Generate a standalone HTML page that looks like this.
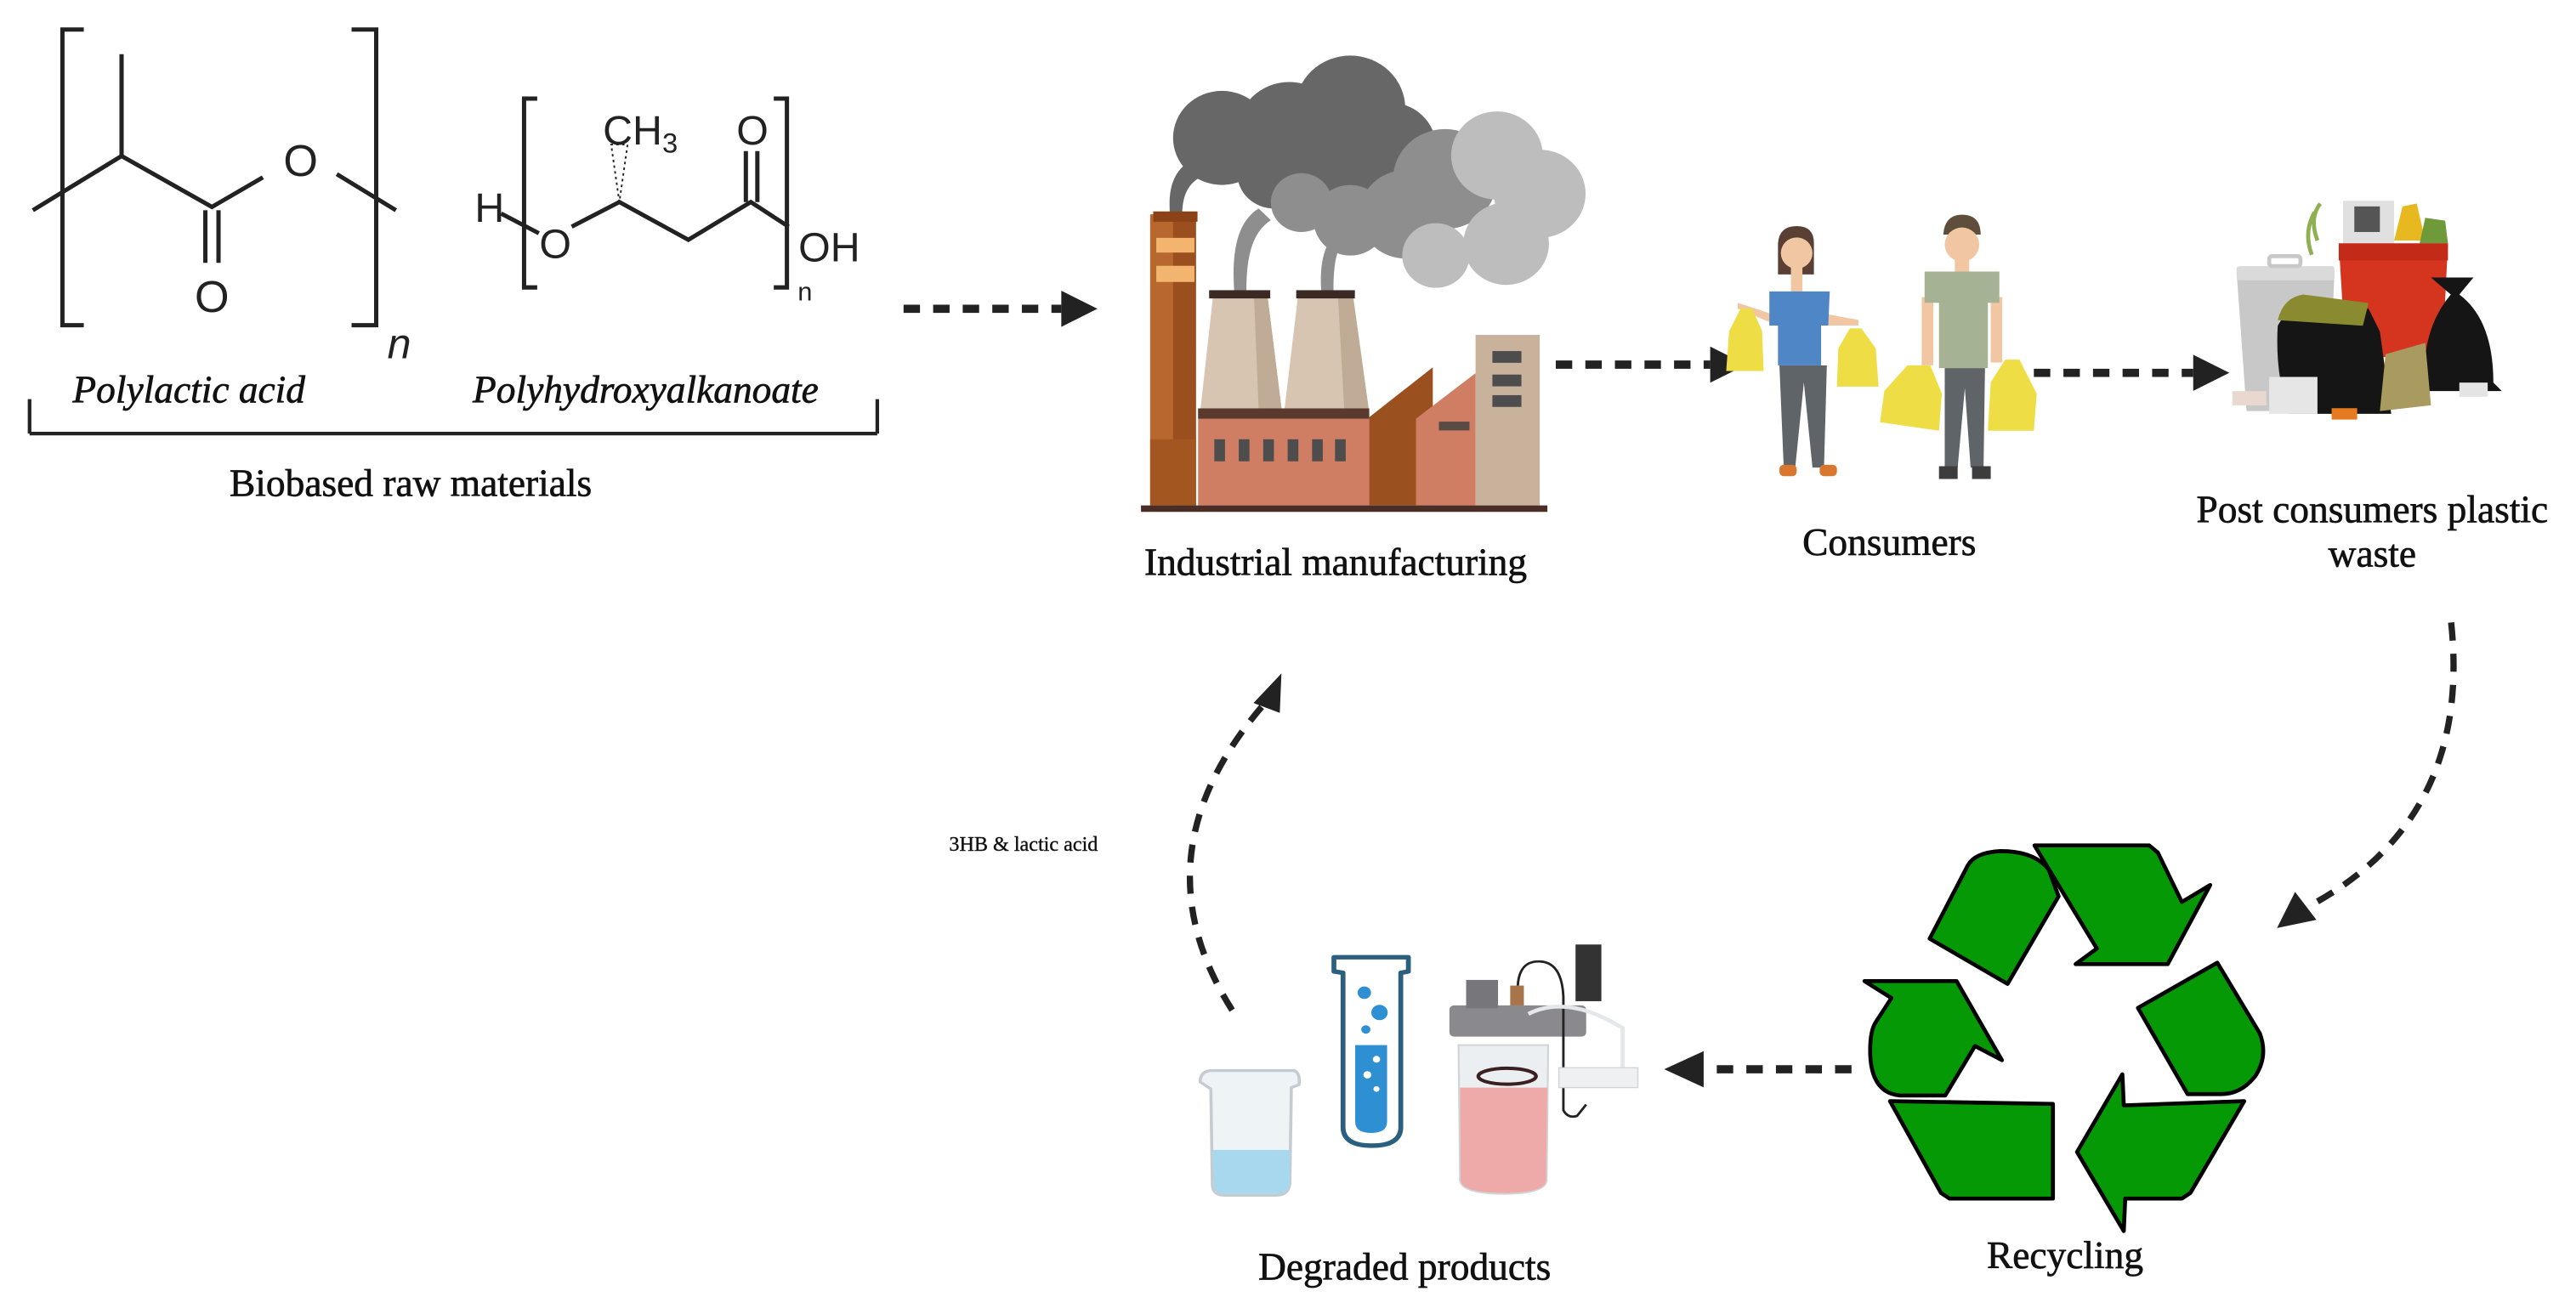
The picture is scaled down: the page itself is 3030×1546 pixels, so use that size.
<!DOCTYPE html>
<html><head><meta charset="utf-8"><style>
html,body{margin:0;padding:0;background:#fff;}
svg{display:block;}
.lab{font-family:"Liberation Serif",serif;font-size:23.5px;fill:#111;stroke:#111;stroke-width:0.35;}
.ch{font-family:"Liberation Sans",sans-serif;fill:#222;}
</style></head><body>
<svg width="3030" height="1546" viewBox="0 0 1568 800" preserveAspectRatio="none" xmlns="http://www.w3.org/2000/svg">
<rect width="1568" height="800" fill="#fff"/>
<!-- PLA -->
<g stroke="#222" stroke-width="2.6" fill="none">
<path d="M51,18 H38 V198 H51"/>
<path d="M214,18 H229 V198 H214"/>
<path d="M20,128 L74,95 L129,126 L160,108"/>
<path d="M74,95 V33"/>
<path d="M125,128 V160 M133,128 V160"/>
<path d="M205,106 L241,128"/>
<!-- PHA -->
<path d="M327,60 H319 V175 H327"/>
<path d="M471,60 H479 V175 H471"/>
<path d="M305,130 L328,142"/>
<path d="M348,138 L377,123 L419,146 L457,123 L480,138"/>
<path d="M454,123 V92 M461,123 V92"/>
<path d="M18,264 H534 M18,264 V243 M534,264 V243" stroke-width="2.2"/>
</g>
<path d="M377,123 L372,88 L382,88 Z" fill="none" stroke="#222" stroke-width="1" stroke-dasharray="1.5 2"/>
<text class="ch" x="183" y="107" font-size="27" text-anchor="middle">O</text>
<text class="ch" x="129" y="190" font-size="27" text-anchor="middle">O</text>
<text class="ch" x="243" y="218" font-size="26" font-style="italic" text-anchor="middle">n</text>
<text class="ch" x="298" y="135" font-size="25" text-anchor="middle">H</text>
<text class="ch" x="338" y="157" font-size="25" text-anchor="middle">O</text>
<text class="ch" x="367" y="88" font-size="25">CH<tspan font-size="17" dy="5">3</tspan></text>
<text class="ch" x="458" y="88" font-size="25" text-anchor="middle">O</text>
<text class="ch" x="486" y="159" font-size="25">OH</text>
<text class="ch" x="490" y="183" font-size="16" text-anchor="middle">n</text>
<text class="lab" x="115" y="245" font-style="italic" text-anchor="middle">Polylactic acid</text>
<text class="lab" x="393" y="245" font-style="italic" text-anchor="middle">Polyhydroxyalkanoate</text>
<text class="lab" x="250" y="302" text-anchor="middle">Biobased raw materials</text>

<!-- straight arrows -->
<g stroke="#222" stroke-width="5" stroke-dasharray="10 8" fill="none">
<path d="M550,188 H646"/>
<path d="M947,222 H1041"/>
<path d="M1238,227 H1335"/>
<path d="M1127,651 H1037"/>
</g>
<g fill="#222">
<path d="M646,177 L668,188 L646,199 Z"/>
<path d="M1041,211 L1063,222 L1041,233 Z"/>
<path d="M1335,216 L1357,227 L1335,238 Z"/>
<path d="M1037,640 L1013,651 L1037,662 Z"/>
</g>
<!-- curved arrows -->
<g stroke="#222" stroke-width="3.8" stroke-dasharray="11 8" fill="none">
<path d="M1492,379 Q1505,500 1403,553"/>
<path d="M750,615 Q690,520 770,428"/>
</g>
<path d="M1386,565 L1397,543 L1410,560 Z" fill="#222"/>
<path d="M780,410 L763,428 L779,434 Z" fill="#222"/>
<text class="lab" x="623" y="518" font-size="12.5" style="font-size:12.5px;stroke-width:0.2" text-anchor="middle">3HB &amp; lactic acid</text>

<!-- factory -->
<g transform="translate(688,41) scale(0.186,0.179)">
<g fill="#676767">
<path d="M130,500 C120,380 160,330 230,300 L260,360 C200,380 170,420 170,500 Z"/>
<circle cx="300" cy="240" r="160"/><circle cx="520" cy="220" r="170"/><circle cx="720" cy="140" r="180"/>
<circle cx="850" cy="270" r="150"/><circle cx="690" cy="370" r="120"/><circle cx="470" cy="360" r="120"/>
</g>
<g fill="#8e8e8e">
<path d="M340,760 C330,600 360,520 420,480 L460,520 C400,560 380,640 380,760 Z"/>
<path d="M625,760 C620,680 630,620 660,580 L690,600 C670,640 665,690 665,760 Z"/>
<circle cx="1030" cy="380" r="170"/><circle cx="900" cy="500" r="150"/><circle cx="720" cy="520" r="120"/><circle cx="560" cy="460" r="100"/>
</g>
<g fill="#bdbdbd">
<circle cx="1200" cy="300" r="150"/><circle cx="1340" cy="430" r="150"/><circle cx="1230" cy="600" r="140"/><circle cx="1000" cy="640" r="110"/>
</g>
<rect x="65" y="500" width="150" height="990" fill="#b8682e"/>
<rect x="140" y="500" width="75" height="990" fill="#9c4f1e"/>
<rect x="65" y="1265" width="150" height="225" fill="#a3561f"/>
<rect x="75" y="490" width="145" height="35" fill="#8a4216"/>
<rect x="85" y="580" width="125" height="50" fill="#f2b46e"/>
<rect x="85" y="675" width="125" height="55" fill="#f2b46e"/>
<path d="M270,785 L450,785 L495,1160 L230,1160 Z" fill="#d7c5b2"/>
<path d="M405,785 L450,785 L495,1160 L420,1160 Z" fill="#c0ab96"/>
<rect x="258" y="758" width="200" height="28" fill="#3b2a24"/>
<path d="M548,785 L730,785 L780,1160 L505,1160 Z" fill="#d7c5b2"/>
<path d="M680,785 L730,785 L780,1160 L700,1160 Z" fill="#c0ab96"/>
<rect x="543" y="758" width="192" height="28" fill="#3b2a24"/>
<rect x="222" y="1160" width="560" height="330" fill="#cf7e64"/>
<rect x="222" y="1160" width="560" height="35" fill="#5a3a2e"/>
<g fill="#4d4d4d"><rect x="275" y="1265" width="35" height="75"/><rect x="355" y="1265" width="35" height="75"/><rect x="435" y="1265" width="35" height="75"/><rect x="515" y="1265" width="35" height="75"/><rect x="595" y="1265" width="35" height="75"/><rect x="670" y="1265" width="35" height="75"/></g>
<path d="M782,1490 V1190 L990,1020 V1490 Z" fill="#9b501f"/>
<path d="M935,1490 V1195 L1130,1040 V1490 Z" fill="#cf7e64"/>
<rect x="1010" y="1205" width="100" height="30" fill="#5a4a44"/>
<rect x="1130" y="910" width="210" height="580" fill="#c9b29c"/>
<g fill="#4d4d4d"><rect x="1185" y="965" width="95" height="40"/><rect x="1185" y="1045" width="95" height="40"/><rect x="1185" y="1115" width="95" height="40"/></g>
<rect x="35" y="1490" width="1330" height="22" fill="#4a2e25"/>
</g>
<text class="lab" x="813" y="350" text-anchor="middle">Industrial manufacturing</text>

<!-- people -->
<g transform="translate(1035,129) scale(0.175,0.173)">
<path d="M270,220 V110 Q275,50 335,50 Q395,50 395,110 V220 Z" fill="#5a4034"/>
<circle cx="335" cy="145" r="55" fill="#f0c7a2"/>
<rect x="315" y="190" width="40" height="90" fill="#f0c7a2"/>
<path d="M130,320 L250,360 L245,390 L130,340 Z" fill="#f0c7a2"/>
<path d="M440,360 L550,380 L550,400 L440,400 Z" fill="#f0c7a2"/>
<path d="M240,280 L450,280 L445,400 L420,400 L420,540 L270,540 L270,400 L240,400 Z" fill="#4f86c6"/>
<path d="M275,540 L440,540 L430,900 L390,900 L360,600 L330,900 L290,900 Z" fill="#5f6468"/>
<rect x="275" y="890" width="60" height="40" rx="15" fill="#d9772e"/>
<rect x="415" y="890" width="60" height="40" rx="15" fill="#d9772e"/>
<path d="M90,560 L100,420 L140,340 L180,340 L215,420 L220,560 Z" fill="#eedd44"/>
<path d="M475,615 L480,480 L520,410 L560,410 L610,480 L620,615 Z" fill="#eedd44"/>
<path d="M845,80 Q850,10 910,10 Q975,10 975,80 Z" fill="#5f4e3c"/>
<circle cx="910" cy="115" r="60" fill="#f0c7a2"/>
<rect x="885" y="160" width="50" height="60" fill="#f0c7a2"/>
<rect x="770" y="300" width="40" height="240" fill="#f0c7a2"/>
<rect x="1010" y="300" width="40" height="230" fill="#f0c7a2"/>
<path d="M780,210 L1040,210 L1040,320 L1000,320 L1000,550 L830,550 L830,320 L780,320 Z" fill="#a5b394"/>
<path d="M850,550 L990,550 L985,900 L940,900 L920,620 L895,900 L850,900 Z" fill="#5f6468"/>
<rect x="830" y="895" width="65" height="45" fill="#3d3d3d"/>
<rect x="945" y="895" width="65" height="45" fill="#3d3d3d"/>
<path d="M625,740 L640,630 L720,540 L800,540 L840,640 L830,770 Z" fill="#eedd44"/>
<path d="M1000,770 L1010,600 L1060,520 L1110,520 L1170,640 L1160,770 Z" fill="#eedd44"/>
</g>
<text class="lab" x="1150" y="338" text-anchor="middle">Consumers</text>

<!-- waste -->
<g transform="translate(1345,98) scale(0.1727,0.173)">
<path d="M380,280 Q350,200 390,150 M360,330 Q330,250 370,180" stroke="#8fb050" stroke-width="14" fill="none"/>
<rect x="470" y="140" width="180" height="150" fill="#e0e0e0"/>
<rect x="510" y="160" width="90" height="90" fill="#555"/>
<path d="M650,280 L680,160 L730,150 L760,280 Z" fill="#e8b820"/>
<path d="M740,290 L760,200 L830,210 L840,290 Z" fill="#6f9a3a"/>
<path d="M95,390 L440,390 L420,880 L130,880 Z" fill="#c8c8c8"/>
<rect x="95" y="370" width="345" height="50" rx="10" fill="#dadada"/>
<rect x="210" y="335" width="110" height="35" rx="10" fill="none" stroke="#c8c8c8" stroke-width="14"/>
<path d="M455,290 L840,290 L820,690 L480,690 Z" fill="#d5341f"/>
<rect x="455" y="290" width="385" height="60" fill="#c42a18"/>
<path d="M240,580 Q300,470 400,520 L560,520 L600,600 L640,890 L280,890 Q230,750 240,580 Z" fill="#151515"/>
<path d="M240,560 Q260,480 330,470 L560,500 L540,580 Z" fill="#8a8a30"/>
<path d="M780,410 L930,410 L880,470 Q1000,560 1000,780 L1030,810 L760,810 Q740,600 850,470 Z" fill="#151515"/>
<path d="M620,680 L760,640 L780,860 L600,880 Z" fill="#a99a60"/>
<rect x="210" y="760" width="170" height="130" fill="#e6e6e6"/>
<rect x="80" y="810" width="120" height="50" fill="#e8d8d0"/>
<rect x="430" y="870" width="90" height="40" fill="#e57a20"/>
<rect x="880" y="780" width="100" height="50" fill="#e4e4e4"/>
</g>
<text class="lab" x="1444" y="318" text-anchor="middle">Post consumers plastic</text>
<text class="lab" x="1444" y="345" text-anchor="middle">waste</text>

<!-- recycling -->
<g transform="translate(1128,507) scale(0.1725,0.172)" fill="#059a05" stroke="#000" stroke-width="14" stroke-linejoin="round">
<path d="M270,375 L405,115 Q430,70 520,65 Q640,65 690,130 L725,225 L545,535 Z"/>
<path d="M640,45 L1045,45 L1075,70 L1160,245 L1260,185 L1110,465 L785,465 L860,410 Z"/>
<path d="M40,525 L365,525 L525,805 L430,755 L325,930 L165,930 Q60,920 60,770 Q60,700 80,670 L135,585 Z"/>
<path d="M1005,620 L1285,460 L1435,710 Q1465,790 1420,860 Q1370,925 1300,925 L1180,925 Z"/>
<path d="M130,950 L705,960 L705,1295 L340,1295 L310,1275 Z"/>
<path d="M790,1130 L950,855 L955,965 L1380,950 L1190,1275 L1160,1295 L960,1295 L955,1410 Z"/>
</g>
<text class="lab" x="1257" y="772" text-anchor="middle">Recycling</text>

<!-- lab -->
<g transform="translate(725,569) scale(0.185,0.1725)">
<path d="M30,520 Q30,480 70,480 L340,480 Q360,490 355,530 L330,540 L325,880 Q320,920 280,920 L110,920 Q70,920 70,880 L65,545 Z" fill="#eef3f6" stroke="#c4ccd2" stroke-width="10"/>
<path d="M70,760 L325,760 L325,880 Q320,915 280,915 L110,915 Q75,915 75,880 Z" fill="#a8d8ee"/>
<path d="M470,80 L715,80 L715,130 L690,135 L690,680 Q690,745 595,745 Q500,745 500,680 L500,135 L470,130 Z" fill="#fff" stroke="#2b5f7f" stroke-width="16" stroke-linejoin="round"/>
<path d="M540,390 L645,390 L645,660 Q645,700 592,700 Q540,700 540,660 Z" fill="#2e8fd2"/>
<g fill="#2e8fd2"><circle cx="570" cy="205" r="22"/><circle cx="620" cy="275" r="27"/><circle cx="575" cy="335" r="15"/></g>
<g fill="#fff"><circle cx="610" cy="440" r="12"/><circle cx="580" cy="495" r="13"/><circle cx="610" cy="545" r="10"/></g>
<path d="M880,390 L1175,390 L1170,870 Q1160,915 1030,915 Q895,915 885,870 Z" fill="#eceff2" stroke="#d0d4d8" stroke-width="6"/>
<path d="M885,540 L1172,540 L1168,870 Q1160,912 1030,912 Q895,912 887,870 Z" fill="#eeaaa8"/>
<ellipse cx="1040" cy="500" rx="95" ry="28" fill="none" stroke="#3a2020" stroke-width="12"/>
<rect x="850" y="250" width="450" height="110" rx="15" fill="#8a8a8e"/>
<rect x="905" y="160" width="105" height="100" fill="#77777b"/>
<rect x="1050" y="180" width="45" height="70" fill="#a8744a"/>
<path d="M1075,180 Q1080,90 1150,95 Q1220,100 1225,220 L1225,620 Q1240,650 1270,640 L1300,600" fill="none" stroke="#222" stroke-width="8"/>
<rect x="1265" y="35" width="85" height="200" fill="#333"/>
<path d="M1110,280 Q1240,210 1420,330 L1420,470" fill="none" stroke="#e4e8ea" stroke-width="14"/>
<rect x="1210" y="470" width="260" height="70" fill="#eef0f2" stroke="#d0d4d8" stroke-width="4"/>
</g>
<text class="lab" x="855" y="779" text-anchor="middle">Degraded products</text>
</svg>
</body></html>
